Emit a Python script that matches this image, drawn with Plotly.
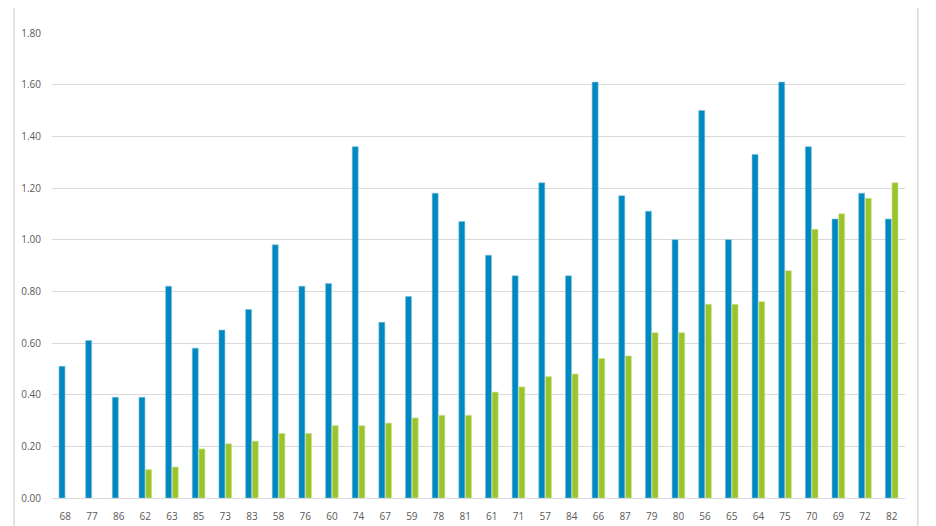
import plotly.graph_objects as go

# category labels, in the order shown on the x axis
categories = ['68', '77', '86', '62', '63', '85', '73', '83', '58', '76',
              '60', '74', '67', '59', '78', '81', '61', '71', '57', '84',
              '66', '87', '79', '80', '56', '65', '64', '75', '70', '69',
              '72', '82']

# values
blue_vals = [0.51, 0.61, 0.39, 0.39, 0.82, 0.58, 0.65, 0.73, 0.98, 0.82,
             0.83, 1.36, 0.68, 0.78, 1.18, 1.07, 0.94, 0.86, 1.22, 0.86,
             1.61, 1.17, 1.11, 1.00, 1.50, 1.00, 1.33, 1.61, 1.36, 1.08,
             1.18, 1.08]
green_vals = [None, None, None, 0.11, 0.12, 0.19, 0.21, 0.22, 0.25, 0.25,
              0.28, 0.28, 0.29, 0.31, 0.32, 0.32, 0.41, 0.43, 0.47, 0.48,
              0.54, 0.55, 0.64, 0.64, 0.75, 0.75, 0.76, 0.88, 1.04, 1.10,
              1.16, 1.22]

y_ticks = [0, 0.2, 0.4, 0.6, 0.8, 1.0, 1.2, 1.4, 1.6, 1.8]

fig = go.Figure()
fig.add_trace(go.Bar(
    x=categories, y=blue_vals, name='A',
    marker=dict(color='#0088C0', line=dict(color='#7fbfdc', width=0.6))
))
fig.add_trace(go.Bar(
    x=categories, y=green_vals, name='B',
    marker=dict(color='#9BC42A', line=dict(color='#cde29a', width=0.6))
))

# page body has an 8px margin, so the figure is a bit smaller than the window
fig.update_layout(
    width=928, height=518,
    margin=dict(l=44, r=31, t=25, b=28, autoexpand=False),
    barmode='group',
    bargap=0.5,
    bargroupgap=0.1,
    showlegend=False,
    plot_bgcolor='white',
    paper_bgcolor='white',
    font=dict(family='Open Sans', size=10, color='#595959'),
    # light frame lines at the left and right of the chart
    shapes=[
        dict(type='line', xref='paper', yref='paper', x0=-0.0445, x1=-0.0445,
             y0=-0.2, y1=1.2, line=dict(color='#d9d9d9', width=1.5)),
        dict(type='line', xref='paper', yref='paper', x0=1.015, x1=1.015,
             y0=-0.2, y1=1.2, line=dict(color='#d9d9d9', width=1.5)),
    ],
)
fig.update_xaxes(
    type='category',
    automargin=False,
    showgrid=False,
    showline=False,
    ticks='',
    ticklabelstandoff=11,
)
fig.update_yaxes(
    range=[0, 1.8],
    automargin=False,
    tickvals=y_ticks,
    tickformat='.2f',
    showgrid=True,
    gridcolor='#d9d9d9',
    gridwidth=1,
    zeroline=True,
    zerolinecolor='#d9d9d9',
    zerolinewidth=1,
    ticks='',
    ticklabelstandoff=10,
)

fig.write_html("out.html")
